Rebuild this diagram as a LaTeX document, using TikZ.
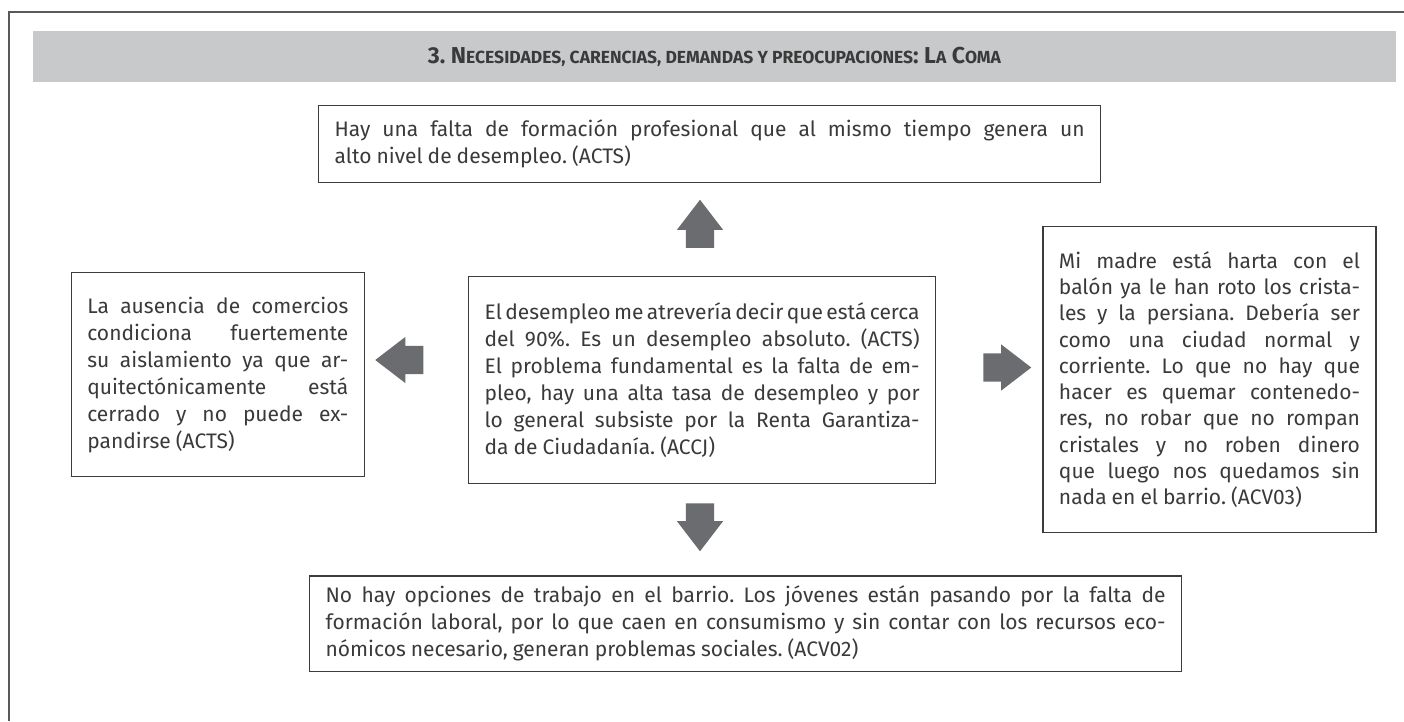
\documentclass[tikz,border=0pt]{standalone}
\usepackage{fontspec}
\setmainfont{Fira Sans}
\usetikzlibrary{positioning,shapes.arrows}

\definecolor{bandgray}{HTML}{C8C9CB}
\definecolor{arrowgray}{HTML}{6B6C70}
\definecolor{linegray}{HTML}{3C3C3C}
\definecolor{textgray}{HTML}{3A3A3A}
\newcommand{\smallcap}[1]{{\fontsize{17.5}{20}\selectfont #1}}
\tolerance=10000
\hyphenpenalty=10000
\frenchspacing

\begin{document}
\begin{tikzpicture}[
    x=1pt, y=-1pt,
    box/.style={rectangle, draw=linegray, line width=1.3pt, fill=white, text=textgray, inner xsep=16pt, inner ysep=10pt, align=justify, font=\fontsize{21}{27}\selectfont, execute at begin node={\spaceskip=0.24em plus 1em minus 0.14em\relax}},
    bigarrow/.style={single arrow, fill=arrowgray, draw=none, minimum height=48pt, single arrow head extend=9pt, single arrow tip angle=75},
    harrow/.style={bigarrow, inner xsep=0pt, inner ysep=14pt},
    varrow/.style={bigarrow, inner xsep=14pt, inner ysep=0pt},
    band/.style={rectangle, fill=bandgray, text=textgray, minimum width=1363pt, minimum height=51pt, font=\fontsize{23}{27}\selectfont\bfseries},
    frame/.style={draw=linegray!85, line width=2pt}
]
\useasboundingbox (0,0) rectangle (1404,721);

% Outer frame and title band
\draw[frame] (9,721) -- (9,12) -- (1404,12);
\node (band) [band] at (714.5,56.5) {3. N\smallcap{ECESIDADES, CARENCIAS, DEMANDAS Y PREOCUPACIONES}: L\smallcap{A} C\smallcap{OMA}};

% Centre box
\node (center) [box, text width=435pt, minimum height=207pt, anchor=north west] at (468,276) {{\spaceskip=1pt plus 40pt minus 1pt\makebox[\linewidth][s]{El desempleo me atrevería decir que está cerca}}\linebreak del 90\%. Es un desempleo absoluto. (ACTS)\linebreak El problema fundamental es la falta de em-\linebreak pleo, hay una alta tasa de desempleo y por\linebreak lo general subsiste por la Renta Garantiza-\linebreak da de Ciudadanía. (ACCJ)};

% Top box
\node (top) [box, text width=750pt, minimum height=77pt, above=93pt of center.north, anchor=south, xshift=7.5pt] {Hay una falta de formación profesional que al mismo tiempo genera un\linebreak alto nivel de desempleo. (ACTS)};

% Left box
\node (left) [box, text width=261pt, minimum height=204pt, left=103pt of center.north west, anchor=north east, yshift=4pt] {La ausencia de comercios\linebreak condiciona fuertemente\linebreak su aislamiento ya que ar-\linebreak quitectónicamente está\linebreak cerrado y no puede ex-\linebreak pandirse (ACTS)};

% Right box
\node (right) [box, text width=301pt, minimum height=306pt, right=106pt of center.north east, anchor=north west, yshift=50pt, font=\fontsize{21}{26.3}\selectfont] {Mi madre está harta con el\linebreak balón ya le han roto los crista-\linebreak les y la persiana. Debería ser\linebreak como una ciudad normal y\linebreak corriente. Lo que no hay que\linebreak hacer es quemar contenedo-\linebreak res, no robar que no rompan\linebreak cristales y no roben dinero\linebreak que luego nos quedamos sin\linebreak nada en el barrio. (ACV03)};

% Bottom box
\node (bottom) [box, text width=840pt, minimum height=86pt, below=91pt of center.south, anchor=north, xshift=43.5pt] {No hay opciones de trabajo en el barrio. Los jóvenes están pasando por la falta de\linebreak formación laboral, por lo que caen en consumismo y sin contar con los recursos eco-\linebreak nómicos necesario, generan problemas sociales. (ACV02)};

% Block arrows
\node (uparrow) [varrow, shape border rotate=90] at (700,233) {};
\node (leftarrow) [harrow, shape border rotate=180] at (408.5,360) {};
\node (rightarrow) [harrow] at (998,367.5) {};
\node (downarrow) [varrow, shape border rotate=270] at (700,518) {};

\end{tikzpicture}
\end{document}
